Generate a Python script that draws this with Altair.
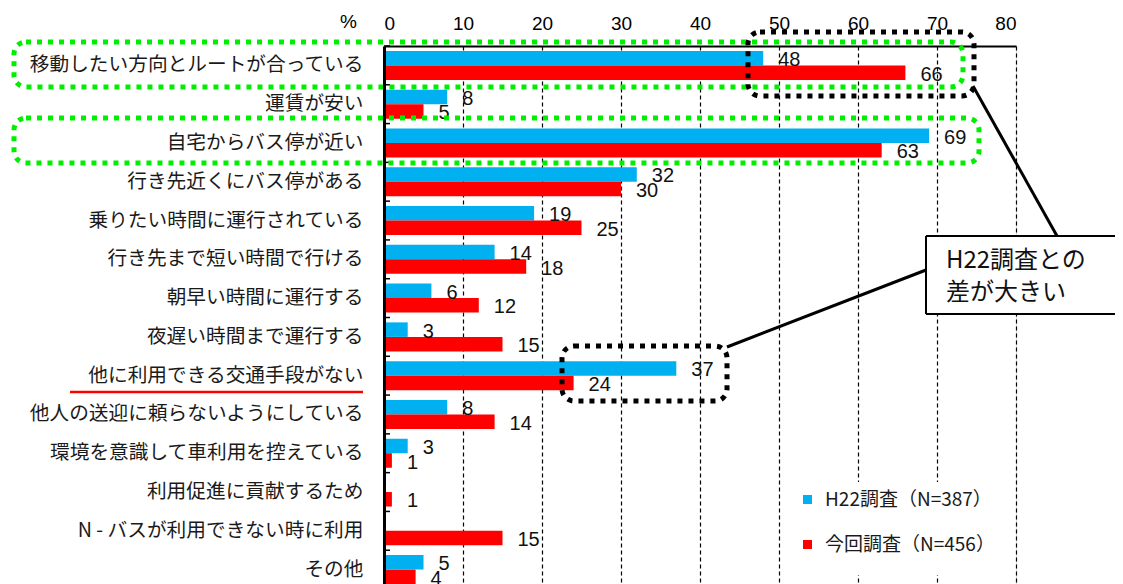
import altair as alt
import pandas as pd

# ---------------- data ----------------
categories = [
    "移動したい方向とルートが合っている",
    "運賃が安い",
    "自宅からバス停が近い",
    "行き先近くにバス停がある",
    "乗りたい時間に運行されている",
    "行き先まで短い時間で行ける",
    "朝早い時間に運行する",
    "夜遅い時間まで運行する",
    "他に利用できる交通手段がない",
    "他人の送迎に頼らないようにしている",
    "環境を意識して車利用を控えている",
    "利用促進に貢献するため",
    "N - バスが利用できない時に利用",
    "その他",
]
series_names = ["H22調査（N=387）", "今回調査（N=456）"]
h22_values = [48, 8, 69, 32, 19, 14, 6, 3, 37, 8, 3, None, None, 5]
current_values = [66, 5, 63, 30, 25, 18, 12, 15, 24, 14, 1, 1, 15, 4]
x_ticks = [0, 10, 20, 30, 40, 50, 60, 70, 80]
series_colors = ["#00B0F0", "#FF0000"]
callout_lines = ["H22調査との", "差が大きい"]

rows = []
for cat, a, b in zip(categories, h22_values, current_values):
    rows.append({"cat": cat, "series": series_names[0], "value": a})
    rows.append({"cat": cat, "series": series_names[1], "value": b})
df = pd.DataFrame(rows)
df_valid = df.dropna(subset=["value"])
cat_df = pd.DataFrame({"cat": categories})
one = pd.DataFrame({"k": [0]})

JP = "Noto Sans CJK JP"
NUM = "Liberation Sans"

W, H = 632, 543

y_enc = alt.Y(
    "cat:N",
    sort=categories,
    scale=alt.Scale(paddingInner=0, paddingOuter=0),
    axis=alt.Axis(
        title=None,
        labelFont=JP,
        labelFontSize=19.7,
        labelColor="#1a1a1a",
        labelLimit=500,
        labelPadding=21,
        ticks=False,
        tickSize=0,
        domainColor="black",
        domainWidth=3,
        zindex=1,
    ),
)
yoff = alt.YOffset(
    "series:N", sort=series_names, scale=alt.Scale(paddingInner=0, paddingOuter=0.337)
)
x_enc = alt.X(
    "value:Q",
    scale=alt.Scale(domain=[0, 80], nice=False, zero=True),
    axis=alt.Axis(
        orient="top",
        values=x_ticks,
        title="%",
        titleFont=NUM,
        titleFontSize=19,
        titleFontWeight="normal",
        titleAngle=0,
        titleX=-36,
        titleY=-25,
        titleAlign="center",
        titleBaseline="middle",
        labelFont=NUM,
        labelFontSize=19,
        labelColor="black",
        labelPadding=13,
        ticks=False,
        tickSize=0,
        domainColor="black",
        domainWidth=2,
        grid=True,
        gridColor="black",
        gridDash=[4, 3],
        gridWidth=1.2,
    ),
)

bars = alt.Chart(df_valid).mark_bar().encode(
    x=x_enc,
    y=y_enc,
    yOffset=yoff,
    color=alt.Color(
        "series:N",
        sort=series_names,
        scale=alt.Scale(domain=series_names, range=series_colors),
        legend=alt.Legend(
            title=None,
            orient="none",
            legendX=406,
            legendY=436,
            symbolType="square",
            symbolSize=81,
            symbolStrokeWidth=0,
            labelFont=JP,
            labelFontSize=19,
            labelColor="#1a1a1a",
            labelLimit=400,
            labelOffset=8,
            rowPadding=25,
            padding=8,
        ),
    ),
)

labels = alt.Chart(df_valid).mark_text(
    align="left", baseline="middle", dx=15, dy=2, font=NUM, fontSize=20, color="#111"
).encode(
    x="value:Q",
    y=alt.Y("cat:N", sort=categories),
    yOffset=alt.YOffset("series:N", sort=series_names),
    text=alt.Text("value:Q", format=".0f"),
)

row_ticks = alt.Chart(cat_df).mark_rule(color="black", strokeWidth=1.5).encode(
    y=alt.Y("cat:N", sort=categories, bandPosition=0),
    x=alt.value(0),
    x2=alt.value(6),
)


def box(x1, x2, y1, y2, color, width=5, radius=12):
    return alt.Chart(one).mark_rect(
        stroke=color, strokeWidth=width, cornerRadius=radius,
        strokeDash=[5, 6], fill="white", fillOpacity=0,
    ).encode(x=alt.value(x1), x2=alt.value(x2), y=alt.value(y1), y2=alt.value(y2))


def seg(x1, y1, x2, y2, color="black", width=3):
    return alt.Chart(one).mark_rule(color=color, strokeWidth=width).encode(
        x=alt.value(x1), x2=alt.value(x2), y=alt.value(y1), y2=alt.value(y2)
    )


legend_bg = alt.Chart(one).mark_rect(fill="white").encode(
    x=alt.value(401), x2=alt.value(628), y=alt.value(436), y2=alt.value(529)
)

green1 = box(-370, 579, -4, 41, "#00EE00")
green2 = box(-370, 595, 72, 117, "#00EE00")
black1 = box(364, 590, -14, 50, "black")
black2 = box(178, 343, 300, 355, "black")
line_a = seg(589, 40, 673, 190)
line_b = seg(343, 301, 542, 224)
underline = seg(-314, 346, -21, 346, color="#FF0000", width=2.5)
callout_fill = alt.Chart(one).mark_rect(fill="white").encode(
    x=alt.value(542), x2=alt.value(760), y=alt.value(190), y2=alt.value(268)
)
callout_top = seg(542, 190, 760, 190, width=2)
callout_bottom = seg(542, 268, 760, 268, width=2)
callout_left = seg(542, 190, 542, 268, width=2)
callout_1 = alt.Chart(one).mark_text(
    text=callout_lines[0], align="left", baseline="middle", font=JP, fontSize=24, color="#111"
).encode(x=alt.value(562), y=alt.value(215))
callout_2 = alt.Chart(one).mark_text(
    text=callout_lines[1], align="left", baseline="middle", font=JP, fontSize=24, color="#111"
).encode(x=alt.value(562), y=alt.value(247))

chart = alt.layer(
    legend_bg,
    bars,
    labels,
    row_ticks,
    green1,
    green2,
    black1,
    black2,
    underline,
    line_a,
    line_b,
    callout_fill,
    callout_top,
    callout_bottom,
    callout_left,
    callout_1,
    callout_2,
).properties(
    width=W,
    height=H,
    autosize=alt.AutoSizeParams(type="none"),
    padding={"left": 376, "top": 38, "right": 99, "bottom": 4},
).configure_view(
    stroke="black", strokeWidth=2
).configure(
    background="white"
)

chart.save("out.html", embed_options={"renderer": "svg", "actions": False})
